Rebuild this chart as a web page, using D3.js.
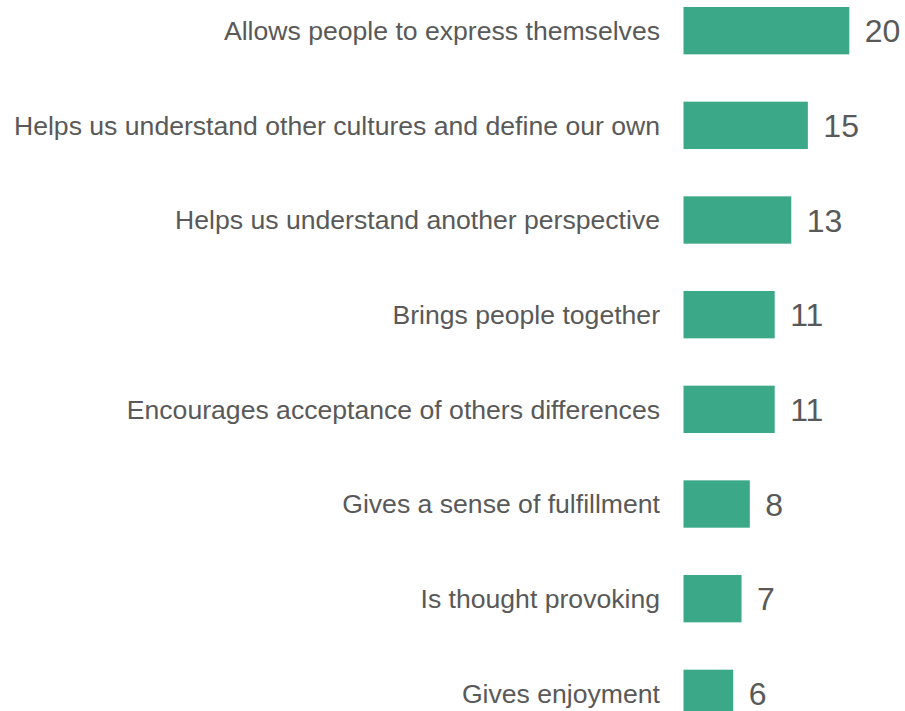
<!DOCTYPE html>
<html><head><meta charset="utf-8">
<script src="https://cdn.jsdelivr.net/npm/d3@7"></script>
<style>body{margin:0;background:#fff}svg{display:block}</style>
</head><body>
<script>
const categories = [
  "Allows people to express themselves",
  "Helps us understand other cultures and define our own",
  "Helps us understand another perspective",
  "Brings people together",
  "Encourages acceptance of others differences",
  "Gives a sense of fulfillment",
  "Is thought provoking",
  "Gives enjoyment"
];
const values = [20, 15, 13, 11, 11, 8, 7, 6];

const W = 905, H = 711;
const svg = d3.select("body").append("svg").attr("width", W).attr("height", H);

const x = d3.scaleLinear().domain([0, 20]).range([683.5, 849.3]);
const y = d3.scaleBand().domain(categories).range([7 - 23.67, 7 + 94.67*8 - 23.67]).paddingInner(0.5).paddingOuter(0.25);

const g = svg.append("g");
const rows = g.selectAll("g.row").data(categories.map((c, i) => ({c, v: values[i]}))).join("g");

rows.append("rect")
  .attr("x", x(0))
  .attr("y", d => y(d.c))
  .attr("width", d => x(d.v) - x(0))
  .attr("height", y.bandwidth())
  .attr("fill", "#3BA888");

rows.append("text")
  .attr("x", 660)
  .attr("y", d => y(d.c) + y.bandwidth()/2)
  .attr("dy", "0.35em")
  .attr("text-anchor", "end")
  .attr("font-family", "Liberation Sans, Arial, sans-serif")
  .attr("font-size", 26.6)
  .attr("fill", "#595959")
  .text(d => d.c);

rows.append("text")
  .attr("x", d => x(d.v) + 15.5)
  .attr("y", d => y(d.c) + y.bandwidth()/2)
  .attr("dy", "0.36em")
  .attr("font-family", "Liberation Sans, Arial, sans-serif")
  .attr("font-size", 32)
  .attr("fill", "#595959")
  .text(d => d.v);
</script>
</body></html>
